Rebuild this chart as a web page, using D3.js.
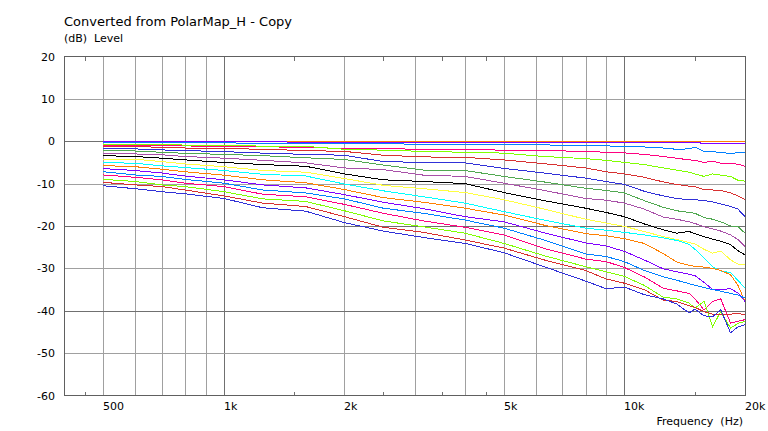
<!DOCTYPE html>
<html><head><meta charset="utf-8">
<script src="https://cdn.jsdelivr.net/npm/d3@7"></script>
<style>
body{margin:0;background:#fff}
svg{display:block}
text{font-family:"DejaVu Sans",Verdana,sans-serif;fill:#000;white-space:pre}
</style>
</head><body>
<svg id="chart" width="768" height="431"></svg>
<script>
// ---- data ----
const freqs = [500,600,700,800,1000,1250,1600,2000,2500,3150,4000,5000,6300,8000,9000,10000,11200,12500,13500,14500,15000,15800,16600,17400,18400,19200,20000];
const angles = [0,5,10,15,20,25,30,35,40,45,50,55,60,65,70,75,80,85,90];
const a0  = [0,0,0,0,0,0,0,0,0,0,0,0,0,0,0,0,0,0,0,0,0,0,0,0,0,0,0];
const a5  = [-0.1,-0.1,-0.1,-0.15,-0.15,-0.15,-0.2,-0.2,-0.2,-0.2,-0.2,-0.25,-0.25,-0.3,-0.3,-0.3,-0.3,-0.3,-0.3,-0.2,-0.2,-0.55,-0.55,-0.55,-0.5,-0.5,-0.5];
const a10 = [-0.25,-0.3,-0.3,-0.35,-0.4,-0.45,-0.5,-0.5,-0.6,-0.7,-0.7,-0.75,-0.85,-1.1,-1.1,-1.2,-1.35,-1.6,-1.9,-1.8,-1.35,-2.4,-2.5,-2.6,-2.9,-2.7,-2.6];
const a15 = [-0.9,-0.95,-1.0,-1.1,-1.25,-1.3,-1.45,-1.7,-1.75,-1.9,-1.95,-2.1,-2.2,-2.4,-2.6,-2.75,-3.1,-3.6,-4.0,-4.4,-4.5,-5.0,-4.7,-5.2,-5.3,-5.4,-5.9];
const a20 = [-0.65,-0.75,-0.8,-0.9,-1.0,-1.15,-1.2,-1.9,-2.1,-2.4,-2.6,-2.8,-3.6,-4.1,-4.5,-5.0,-5.5,-6.3,-6.8,-7.3,-7.7,-8.3,-7.7,-8.0,-8.3,-9.2,-9.4];
const a25 = [-1.27,-1.3,-1.4,-1.6,-1.7,-1.9,-2.2,-2.4,-3.3,-3.7,-3.8,-4.4,-5.3,-6.3,-7.2,-7.7,-8.5,-9.6,-10.2,-10.6,-10.7,-11.4,-11.5,-11.6,-12.2,-12.9,-13.8];
const a30 = [-1.65,-1.8,-2.05,-2.2,-2.45,-2.8,-3.1,-3.3,-4.8,-5.0,-5.1,-6.4,-7.5,-8.7,-9.5,-10.2,-11.8,-12.9,-13.5,-13.8,-13.8,-14.0,-14.3,-14.8,-15.4,-16.0,-17.8];
const a35 = [-2.2,-2.3,-2.6,-2.85,-3.1,-3.4,-3.9,-4.3,-5.6,-6.8,-6.9,-8.3,-9.6,-11.1,-11.6,-12.2,-14.0,-15.6,-16.4,-16.8,-17.0,-18.0,-18.4,-19.0,-20.0,-20.1,-21.7];
const a40 = [-2.85,-3.0,-3.2,-3.6,-4.0,-4.5,-5.1,-6.3,-6.7,-8.0,-8.3,-9.9,-11.6,-13.5,-13.9,-14.6,-16.0,-17.9,-18.4,-19.0,-19.4,-20.2,-20.7,-21.2,-22.1,-23.2,-24.8];
const a45 = [-3.4,-3.6,-4.0,-4.4,-5.0,-5.5,-5.9,-7.7,-9.1,-9.5,-10.0,-12.1,-14.0,-15.8,-16.8,-17.8,-19.5,-20.9,-21.7,-21.3,-21.8,-22.5,-23.1,-23.6,-24.4,-25.8,-26.8];
const a50 = [-4.2,-4.25,-4.8,-5.35,-6.0,-6.9,-7.3,-8.8,-10.4,-11.2,-12.1,-13.8,-16.0,-18.4,-19.3,-20.1,-21.3,-22.5,-23.2,-23.9,-24.2,-25.5,-26.4,-25.9,-28.0,-29.0,-29.2];
const a55 = [-5.0,-5.2,-5.8,-6.2,-6.9,-7.8,-8.2,-10.1,-11.7,-13.1,-14.6,-16.6,-18.6,-20.5,-21.0,-21.5,-22.1,-22.8,-23.4,-24.3,-25.5,-27.5,-29.6,-30.6,-31.0,-32.8,-34.7];
const a60 = [-5.75,-6.0,-6.6,-7.2,-8.0,-9.1,-9.8,-11.4,-13.3,-14.4,-15.8,-17.4,-19.8,-21.8,-22.3,-23.0,-24.1,-26.5,-28.5,-29.3,-29.5,-29.7,-30.0,-30.5,-31.5,-34.0,-37.8];
const a65 = [-6.45,-6.9,-7.5,-8.2,-9.1,-10.3,-11.0,-12.6,-14.4,-15.9,-17.8,-19.0,-21.6,-24.0,-24.7,-26.0,-28.0,-30.1,-30.8,-31.4,-31.7,-33.3,-35.0,-35.0,-34.8,-35.8,-37.8];
const a70 = [-7.2,-7.95,-8.3,-9.0,-9.9,-11.5,-12.2,-13.6,-15.8,-17.0,-18.6,-20.5,-23.3,-26.6,-27.2,-28.4,-30.5,-32.0,-32.8,-33.6,-34.0,-34.5,-35.0,-35.4,-35.9,-36.3,-37.0];
const a75 = [-7.95,-8.5,-9.1,-9.9,-10.7,-12.5,-13.1,-14.9,-17.0,-18.8,-20.3,-22.1,-25.3,-27.8,-28.4,-29.8,-32.0,-34.7,-35.3,-35.9,-37.2,-39.8,-37.8,-37.2,-42.9,-42.5,-42.1];
const a80 = [-9.0,-9.5,-10.3,-10.7,-11.9,-13.6,-14.2,-16.4,-18.8,-20.2,-21.7,-24.1,-27.0,-29.6,-30.8,-31.9,-34.0,-36.8,-37.2,-38.2,-39.4,-37.8,-43.7,-40.2,-44.1,-43.0,-42.5];
const a85 = [-9.7,-10.3,-10.7,-11.5,-12.9,-14.6,-15.4,-17.8,-20.3,-21.5,-23.3,-25.2,-28.0,-30.5,-32.5,-33.5,-35.0,-37.5,-37.8,-38.8,-39.2,-40.2,-40.8,-41.0,-40.8,-40.6,-41.0];
const a90 = [-10.5,-11.2,-11.9,-12.4,-13.5,-15.7,-16.5,-19.2,-21.2,-22.7,-24.1,-26.3,-29.6,-33.0,-34.8,-34.4,-36.2,-37.2,-38.4,-40.5,-39.6,-41.2,-41.4,-39.8,-45.2,-43.8,-43.3];
const seriesValues = [a0,a5,a10,a15,a20,a25,a30,a35,a40,a45,a50,a55,a60,a65,a70,a75,a80,a85,a90];
const palette = ["#ff8000","#8000ff","#0080ff","#ff0080","#80ff00","#d83030","#3030d8","#50a850","#a850a8","#000000","#ffff40","#00ffff"];

const xGrid = [500,600,700,800,900,1000,2000,3000,4000,5000,6000,7000,8000,9000,10000];
const xDecades = [1000,10000];
const xMinor = [450,1500,2500,3500,4500,15000];
const xTickVals = [500,1000,2000,5000,10000,20000];
const xTickText = ["500","1k","2k","5k","10k","20k"];
const yTicks = [20,10,0,-10,-20,-30,-40,-50,-60];
const yMajor = [0,-20,-40];

const titleText = "Converted from PolarMap_H - Copy";
const yLabelText = "(dB)  Level";
const xLabelText = "Frequency  (Hz)";

// ---- chart ----
const svg = d3.select("#chart");
const L = 64.5, R = 745, T = 56.5, B = 395.5;
const x = d3.scaleLog().domain([400,20000]).range([L,R]);
const y = d3.scaleLinear().domain([-60,20]).range([B,T]);
const px = v => Math.round(v) + 0.5;

const g = svg.append("g").attr("shape-rendering","crispEdges");

// vertical grid
g.selectAll("line.vg").data(xGrid).join("line")
  .attr("x1", d=>px(x(d))).attr("x2", d=>px(x(d)))
  .attr("y1", T).attr("y2", B)
  .attr("stroke", d=> xDecades.includes(d) ? "#707070" : "#a0a0a0");
// horizontal grid
g.selectAll("line.hg").data(yTicks.filter(d=>d<20 && d>-60)).join("line")
  .attr("x1", L).attr("x2", R)
  .attr("y1", d=>px(y(d))).attr("y2", d=>px(y(d)))
  .attr("stroke", d=> yMajor.includes(d) ? "#707070" : "#a0a0a0");
// minor ticks
xMinor.forEach(f=>{
  g.append("line").attr("x1",px(x(f))).attr("x2",px(x(f))).attr("y1",B).attr("y2",B-4).attr("stroke","#707070");
  g.append("line").attr("x1",px(x(f))).attr("x2",px(x(f))).attr("y1",T).attr("y2",T+4).attr("stroke","#707070");
});
// frame
g.append("rect").attr("x",L).attr("y",T).attr("width",R-L).attr("height",B-T)
  .attr("fill","none").attr("stroke","#606060");

// curves
const line = d3.line().x((d,i)=>x(freqs[i])).y(d=>y(d));
svg.append("clipPath").attr("id","clip").append("rect").attr("x",L).attr("y",T).attr("width",R-L+1).attr("height",B-T);
const cg = svg.append("g").attr("clip-path","url(#clip)");
cg.selectAll("path").data(seriesValues).join("path")
  .attr("d", d=>line(d))
  .attr("fill","none")
  .attr("stroke",(d,i)=>palette[i%palette.length])
  .attr("stroke-width",1)
  .attr("shape-rendering","crispEdges");

// axis labels
svg.selectAll("text.xt").data(xTickVals).join("text")
  .attr("x", d=>Math.round(x(d))).attr("y", 410)
  .attr("font-size", 11).text((d,i)=>xTickText[i]);
svg.selectAll("text.yt").data(yTicks).join("text")
  .attr("x", 55).attr("y", d=>y(d)+4)
  .attr("text-anchor","end").attr("font-size", 11).text(d=>d);

svg.append("text").attr("x",64).attr("y",26).attr("font-size",13).text(titleText);
svg.append("text").attr("x",64).attr("y",42).attr("font-size",11).attr("xml:space","preserve").text(yLabelText);
svg.append("text").attr("x",743).attr("y",425).attr("text-anchor","end").attr("font-size",11).attr("xml:space","preserve").text(xLabelText);
</script>
</body></html>
